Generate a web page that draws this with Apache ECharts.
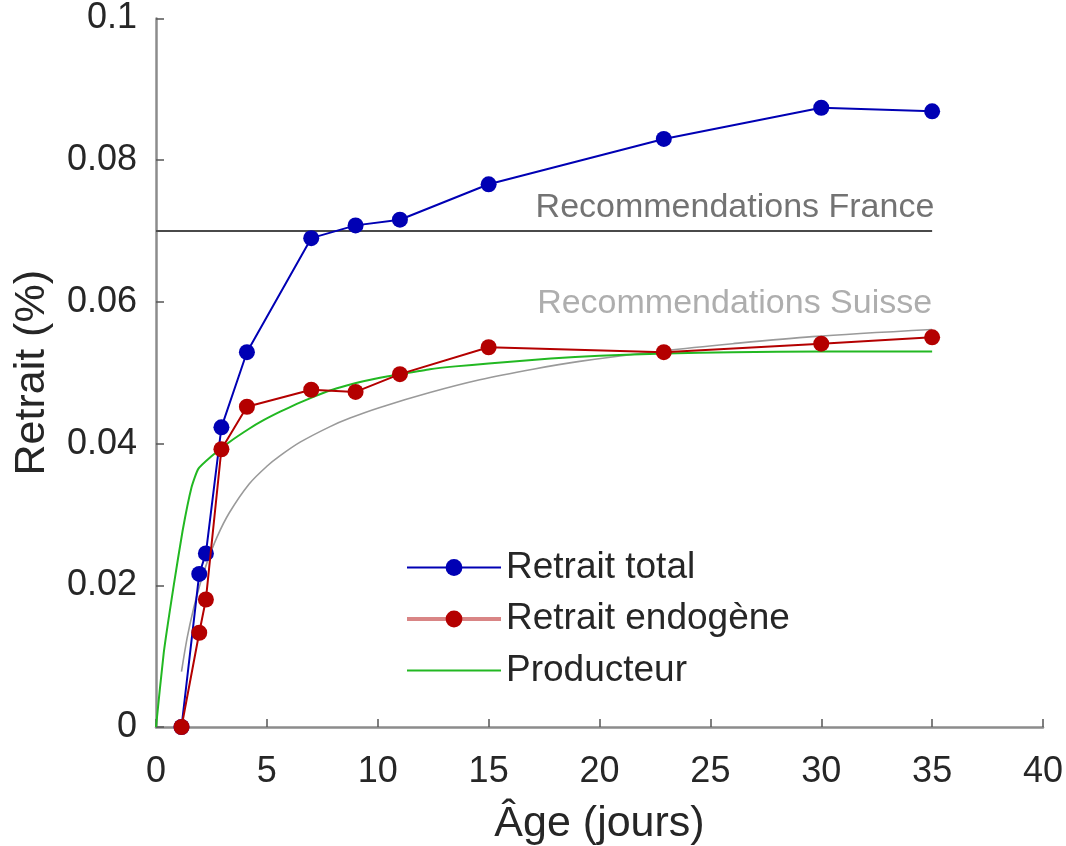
<!DOCTYPE html>
<html>
<head>
<meta charset="utf-8">
<title>Retrait en fonction de l'âge</title>
<script src="https://cdn.jsdelivr.net/npm/echarts@6/dist/echarts.min.js"></script>
<style>
  html, body { margin: 0; padding: 0; background: #ffffff; }
  #chart { width: 1066px; height: 846px; }
</style>
</head>
<body>
<div id="chart"></div>
<script>
// Measurement days (x) and shrinkage values (%)
const ages = [1.15, 1.95, 2.25, 2.95, 4.1, 7, 9, 11, 15, 22.9, 30, 35];
const retraitTotal = [0, 0.0216, 0.0245, 0.0423, 0.0529, 0.0690, 0.0708, 0.0716, 0.0766, 0.0830, 0.0874, 0.0869];
const retraitEndogene = [0, 0.0133, 0.0180, 0.0392, 0.0452, 0.0476, 0.0473, 0.0498, 0.0536, 0.0529, 0.0541, 0.0550];

// Manufacturer curve (Producteur)
const producteurX = [0, 0.35, 0.8, 1.2, 1.6, 1.9, 2.5, 3.3, 4.2, 4.85, 5.6, 6.35, 7.1, 7.85, 8.6, 9.35, 10.1, 10.85, 12.35, 13.5, 15, 17.8, 20, 23, 26, 30, 35];
const producteurY = [0, 0.0105, 0.0200, 0.0277, 0.0338, 0.0364, 0.0382, 0.0402, 0.0421, 0.0433, 0.0445, 0.0456, 0.0466, 0.0475, 0.0482, 0.0488, 0.0493, 0.0497, 0.0505, 0.0509, 0.0513, 0.0520, 0.0524, 0.0527, 0.0529, 0.0530, 0.0530];

// Swiss recommendation curve
const suisseX = [1.15, 1.4, 1.7, 2.0, 2.3, 2.75, 3.3, 4.2, 5.0, 5.6, 6.5, 7.85, 8.75, 10.1, 12.35, 14.6, 17, 19.1, 22.9, 26, 29.6, 35];
const suisseY = [0.0078, 0.0125, 0.0168, 0.0203, 0.0232, 0.0268, 0.0302, 0.0343, 0.0368, 0.0383, 0.0402, 0.0424, 0.0436, 0.0451, 0.0472, 0.0490, 0.0505, 0.0516, 0.0531, 0.0541, 0.0551, 0.0561];

// French recommendation (constant level)
const franceLevel = 0.07;
const franceRange = [0, 35];

// Axis ticks
const xTicks = [0, 5, 10, 15, 20, 25, 30, 35, 40];
const yTicks = [0, 0.02, 0.04, 0.06, 0.08, 0.1];

const FONT = 'Liberation Sans, Arial, Helvetica, sans-serif';
const TEXT = '#262626';
const zip = (xs, ys) => xs.map((x, i) => [x, ys[i]]);

const chart = echarts.init(document.getElementById('chart'), null, { renderer: 'canvas' });

const option = {
  backgroundColor: '#ffffff',
  animation: false,
  grid: { left: 156, right: 23, top: 18.5, bottom: 119, containLabel: false, outerBoundsMode: 'none' },
  xAxis: {
    type: 'value',
    min: xTicks[0],
    max: xTicks[xTicks.length - 1],
    interval: xTicks[1] - xTicks[0],
    name: 'Âge (jours)',
    nameLocation: 'middle',
    nameGap: 76,
    nameTextStyle: { fontFamily: FONT, fontSize: 43, color: TEXT },
    axisLine: { show: true, lineStyle: { color: '#8c8c8c', width: 2.5 } },
    axisTick: { show: true, inside: true, length: 8, lineStyle: { color: '#555555', width: 1.5 } },
    axisLabel: { fontFamily: FONT, fontSize: 36, color: TEXT, margin: 27 },
    splitLine: { show: false }
  },
  yAxis: {
    type: 'value',
    min: yTicks[0],
    max: yTicks[yTicks.length - 1],
    interval: yTicks[1] - yTicks[0],
    name: 'Retrait (%)',
    nameLocation: 'middle',
    nameGap: 102,
    nameTextStyle: { fontFamily: FONT, fontSize: 43, color: TEXT },
    axisLine: { show: true, lineStyle: { color: '#8c8c8c', width: 2.5 } },
    axisTick: { show: true, inside: true, length: 8, lineStyle: { color: '#555555', width: 1.5 } },
    axisLabel: {
      fontFamily: FONT, fontSize: 36, color: TEXT, margin: 19,
      formatter: v => String(+v.toFixed(3))
    },
    splitLine: { show: false }
  },
  legend: {
    orient: 'vertical',
    left: 405,
    top: 549,
    padding: 0,
    itemWidth: 94,
    itemHeight: 21,
    itemGap: 14.5,
    textStyle: { fontFamily: FONT, fontSize: 37, lineHeight: 37, color: TEXT },
    data: [
      { name: 'Retrait total', lineStyle: { color: '#0000b4', width: 2 } },
      { name: 'Retrait endogène', lineStyle: { color: '#d98585', width: 4 } },
      { name: 'Producteur', lineStyle: { color: '#22b822', width: 2 }, itemStyle: { opacity: 0 } }
    ]
  },
  series: [
    {
      name: 'Recommandation France',
      type: 'line',
      data: franceRange.map(x => [x, franceLevel]),
      symbol: 'none',
      silent: true,
      z: 1,
      lineStyle: { color: '#4a4a4a', width: 2 }
    },
    {
      name: 'Suisse',
      type: 'line',
      data: zip(suisseX, suisseY),
      symbol: 'none',
      silent: true,
      smooth: 0.3,
      z: 2,
      lineStyle: { color: '#9a9a9a', width: 1.6 }
    },
    {
      name: 'Producteur',
      type: 'line',
      data: zip(producteurX, producteurY),
      symbol: 'none',
      smooth: 0.15,
      z: 3,
      itemStyle: { color: '#22b822' },
      lineStyle: { color: '#22b822', width: 2 }
    },
    {
      name: 'Retrait total',
      type: 'line',
      data: zip(ages, retraitTotal),
      symbol: 'circle',
      symbolSize: 16,
      z: 4,
      itemStyle: { color: '#0000b4' },
      lineStyle: { color: '#0000b4', width: 2 }
    },
    {
      name: 'Retrait endogène',
      type: 'line',
      data: zip(ages, retraitEndogene),
      symbol: 'circle',
      symbolSize: 16,
      z: 5,
      itemStyle: { color: '#b40000' },
      lineStyle: { color: '#b40000', width: 2 }
    },
    {
      // Text annotations for the two recommendation levels
      name: 'annotations',
      type: 'scatter',
      symbolSize: 0,
      silent: true,
      z: 6,
      data: [
        { value: [35.1, 0.0733], label: { formatter: 'Recommendations France', color: '#505050' } },
        { value: [35.0, 0.0598], label: { formatter: 'Recommendations Suisse', color: '#9a9a9a' } }
      ],
      label: {
        show: true,
        position: 'left',
        distance: 0,
        fontFamily: FONT,
        fontSize: 34
      }
    }
  ]
};

chart.setOption(option);
</script>
</body>
</html>
